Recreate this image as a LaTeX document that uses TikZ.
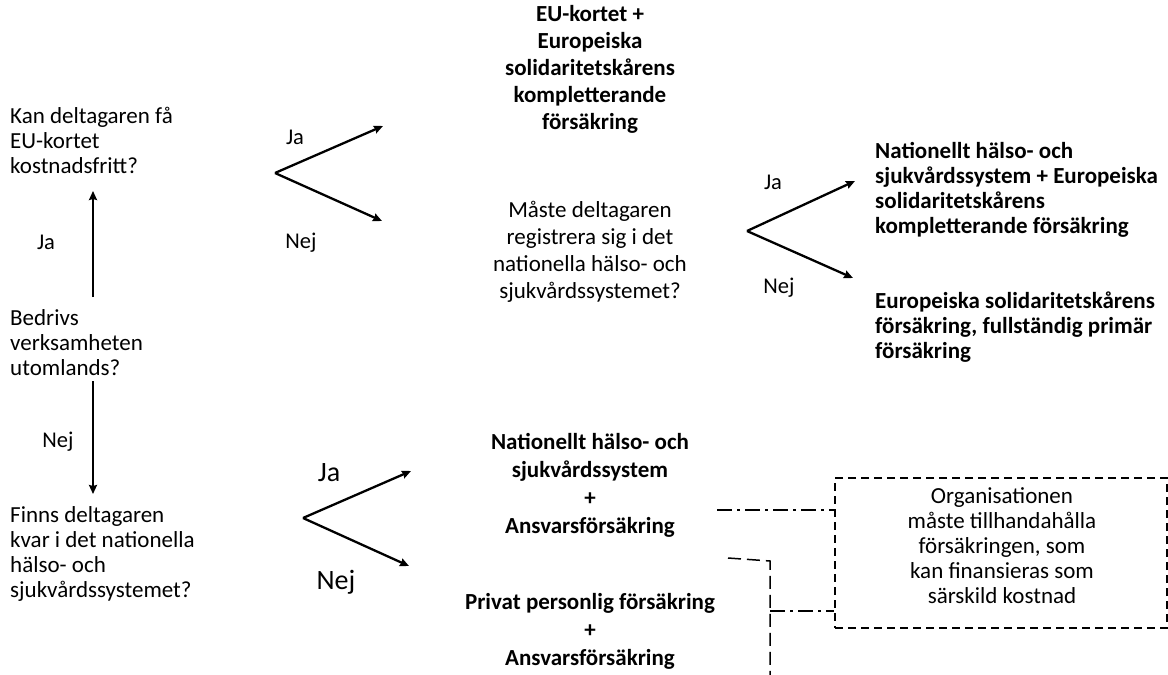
\documentclass[tikz,border=0pt]{standalone}
\usepackage{fontspec}
\setmainfont{Carlito}
\usetikzlibrary{arrows.meta}
\begin{document}
\begin{tikzpicture}[x=1pt,y=-1pt,
  ql/.style={font=\fontsize{23}{25}\selectfont, inner sep=0pt, align=left, anchor=west},
  qc/.style={font=\fontsize{23}{27}\selectfont, inner sep=0pt, align=center},
  res/.style={font=\bfseries\fontsize{23}{27}\selectfont, inner sep=0pt, align=center},
  resb/.style={font=\bfseries\fontsize{23}{28}\selectfont, inner sep=0pt, align=center},
  resl/.style={font=\bfseries\fontsize{23}{25}\selectfont, inner sep=0pt, align=left, anchor=west},
  lab/.style={font=\fontsize{22.5}{25}\selectfont, inner sep=0pt},
  labbig/.style={font=\fontsize{28}{30}\selectfont, inner sep=0pt},
  notetext/.style={font=\fontsize{23}{25}\selectfont, inner sep=0pt, align=center},
  notebox/.style={draw, line width=1.3pt, dash pattern=on 8pt off 5pt, minimum width=332pt, minimum height=150pt, inner sep=0pt},
  arr/.style={line width=2.3pt, -{Stealth[length=9pt,width=8pt,inset=1pt]}},
  dashdot/.style={line width=1.5pt, dash pattern=on 15pt off 5pt on 3pt off 5pt},
  brk/.style={line width=1.5pt, dash pattern=on 13pt off 6pt}
]
\useasboundingbox (0,0) rectangle (1168,675);

% left questions
\node[ql] (q1) at (10,140) {Kan deltagaren få\\EU-kortet\\kostnadsfritt?};
\node[ql] (q0) at (10,343) {Bedrivs\\verksamheten\\utomlands?};
\node[ql] (q3) at (10,554) {Finns deltagaren\\kvar i det nationella\\hälso- och\\sjukvårdssystemet?};

% vertical arrows
\coordinate (v1s) at (93,297);
\coordinate (v1e) at (93,191);
\coordinate (v2s) at (93,381);
\coordinate (v2e) at (93,494);
\draw[arr] (v1s) -- (v1e);
\draw[arr] (v2s) -- (v2e);
\node[lab] (lja) at (46,242) {Ja};
\node[lab] (lnej) at (58,442) {Nej};

% top fork
\coordinate (f1) at (275,173);
\coordinate (f1a) at (383,126);
\coordinate (f1b) at (382,221);
\draw[arr] (f1) -- (f1a);
\draw[arr] (f1) -- (f1b);
\node[lab] (f1ja) at (295,137) {Ja};
\node[lab] (f1nej) at (301,243) {Nej};

\node[res] (r1) at (590,69) {EU-kortet +\\Europeiska\\solidaritetskårens\\kompletterande\\försäkring};
\node[qc] (q2) at (590,252) {Måste deltagaren\\registrera sig i det\\nationella hälso- och\\sjukvårdssystemet?};

% right fork
\coordinate (f2) at (747,231);
\coordinate (f2a) at (855,181);
\coordinate (f2b) at (853,278);
\draw[arr] (f2) -- (f2a);
\draw[arr] (f2) -- (f2b);
\node[lab] (f2ja) at (773,182) {Ja};
\node[lab] (f2nej) at (779,288) {Nej};

\node[resl] (r2) at (875,190) {Nationellt hälso- och\\sjukvårdssystem + Europeiska\\solidaritetskårens\\kompletterande försäkring};
\node[resl] (r3) at (875,327) {Europeiska solidaritetskårens\\försäkring, fullständig primär\\försäkring};

% bottom fork
\coordinate (f3) at (303,518);
\coordinate (f3a) at (411,471);
\coordinate (f3b) at (409,566);
\draw[arr] (f3) -- (f3a);
\draw[arr] (f3) -- (f3b);
\node[labbig] (f3ja) at (329,473) {Ja};
\node[labbig] (f3nej) at (336,582) {Nej};

\node[resb] (r4) at (590,485) {Nationellt hälso- och\\sjukvårdssystem\\+\\Ansvarsförsäkring};
\node[resb] (r5) at (590,631) {Privat personlig försäkring\\+\\Ansvarsförsäkring};

% note box
\node[notebox] (note) at (1001,553) {};
\node[notetext] (notet) at (1002,546) {Organisationen\\måste tillhandahålla\\försäkringen, som\\kan finansieras som\\särskild kostnad};

% dash-dot connectors
\coordinate (c1) at (717,510);
\coordinate (b1) at (728,558);
\coordinate (b2) at (770,561);
\coordinate (b3) at (770,675);
\coordinate (b4) at (770,611);
\draw[dashdot] (c1) -- (c1 -| note.west);
\draw[brk] (b1) -- (b2) -- (b3);
\draw[dashdot] (b4) -- (b4 -| note.west);
\end{tikzpicture}
\end{document}
